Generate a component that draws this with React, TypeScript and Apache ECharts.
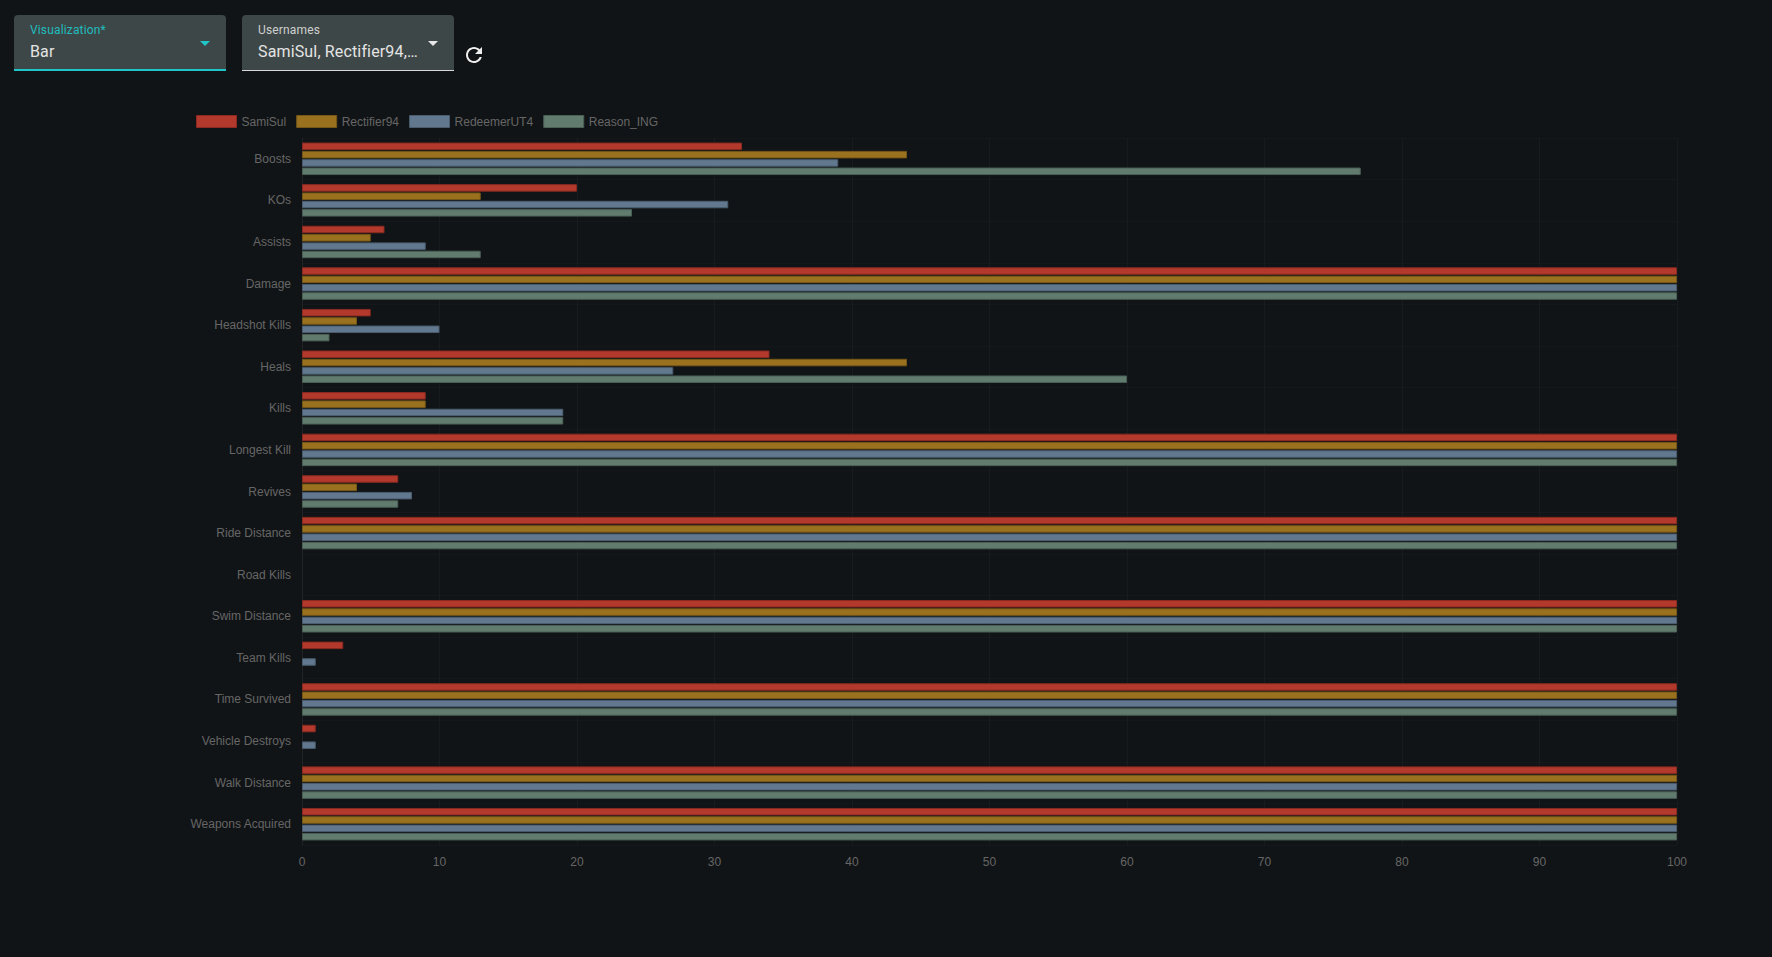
import React, { useEffect, useRef } from "react";
import * as echarts from "echarts";

const categories = [
  "Boosts", "KOs", "Assists", "Damage", "Headshot Kills", "Heals", "Kills",
  "Longest Kill", "Revives", "Ride Distance", "Road Kills", "Swim Distance",
  "Team Kills", "Time Survived", "Vehicle Destroys", "Walk Distance", "Weapons Acquired",
];
const players = ["SamiSul", "Rectifier94", "RedeemerUT4", "Reason_ING"];
const samiSul = [32, 20, 6, 100, 5, 34, 9, 100, 7, 100, 0, 100, 3, 100, 1, 100, 100];
const rectifier94 = [44, 13, 5, 100, 4, 44, 9, 100, 4, 100, 0, 100, 0, 100, 0, 100, 100];
const redeemerUT4 = [39, 31, 9, 100, 10, 27, 19, 100, 8, 100, 0, 100, 1, 100, 1, 100, 100];
const reasonING = [77, 24, 13, 100, 2, 60, 19, 100, 7, 100, 0, 100, 0, 100, 0, 100, 100];
const seriesValues = [samiSul, rectifier94, redeemerUT4, reasonING];
const fills = ["#b3392d", "#9a721f", "#61788f", "#617b6f"];
const borders = ["#8a2a21", "#765717", "#4a5c6e", "#4a5f55"];

const FONT = "'Liberation Sans', Arial, Helvetica, sans-serif";

function Chart() {
  const ref = useRef<HTMLDivElement>(null);
  useEffect(() => {
    if (!ref.current) return;
    const chart = echarts.init(ref.current, undefined, { renderer: "svg" });
    chart.setOption({
      animation: false,
      backgroundColor: "transparent",
      legend: {
        left: 196,
        top: 115,
        padding: 0,
        itemWidth: 40,
        itemHeight: 12,
        itemGap: 10,
        icon: "rect",
        textStyle: { color: "#666", fontSize: 12, fontFamily: FONT },
        data: players.map((p, i) => ({
          name: p,
          itemStyle: { color: fills[i], borderColor: borders[i], borderWidth: 1 },
        })),
      },
      grid: { left: 302, right: 95, top: 138, bottom: 112, containLabel: false },
      xAxis: {
        type: "value",
        min: 0,
        max: 100,
        interval: 10,
        axisLine: { show: false },
        axisTick: { show: false },
        axisLabel: { color: "#666", fontSize: 12, fontFamily: FONT, margin: 11 },
        splitLine: { show: true, lineStyle: { color: "rgba(255,255,255,0.03)", width: 1 } },
      },
      yAxis: {
        type: "category",
        inverse: true,
        data: categories,
        axisLine: { show: true, lineStyle: { color: "rgba(255,255,255,0.04)" } },
        axisTick: { show: false },
        axisLabel: { color: "#666", fontSize: 12, fontFamily: FONT, margin: 11, interval: 0 },
        splitLine: { show: true, interval: 0, lineStyle: { color: "rgba(255,255,255,0.02)", width: 1 } },
      },
      series: players.map((p, i) => ({
        name: p,
        type: "bar",
        barWidth: 7.5,
        barGap: "11%",
        clip: true,
        itemStyle: { color: fills[i], borderColor: borders[i], borderWidth: 1 },
        data: seriesValues[i].map((v) =>
          v === 0 ? { value: 0, itemStyle: { borderWidth: 0, opacity: 0 } } : v
        ),
      })),
    });
    return () => chart.dispose();
  }, []);
  return <div ref={ref} style={{ position: "absolute", left: 0, top: 0, width: 1772, height: 957 }} />;
}

function Arrow({ color, left }: { color: string; left: number }) {
  return (
    <div
      style={{
        position: "absolute",
        left,
        top: 26,
        width: 0,
        height: 0,
        borderLeft: "5px solid transparent",
        borderRight: "5px solid transparent",
        borderTop: `5px solid ${color}`,
      }}
    />
  );
}

export default function App() {
  useEffect(() => {
    document.body.style.margin = "0";
    document.body.style.background = "#111416";
  }, []);
  const fieldBase: React.CSSProperties = {
    position: "absolute",
    top: 15,
    width: 212,
    height: 56,
    background: "#3e4747",
    borderRadius: "4px 4px 0 0",
    fontFamily: "Roboto, 'Noto Sans', sans-serif",
    boxSizing: "border-box",
  };
  return (
    <div
      style={{
        position: "fixed",
        left: 0,
        top: 0,
        width: 1772,
        height: 957,
        background: "#111416",
        overflow: "hidden",
      }}
    >
      <Chart />
      <div style={{ ...fieldBase, left: 14, borderBottom: "2px solid #1ec6c8" }}>
        <div style={{ position: "absolute", left: 16, top: 7, fontSize: 12, color: "#1fbcbe", lineHeight: "16px", letterSpacing: 0.15 }}>
          Visualization*
        </div>
        <div style={{ position: "absolute", left: 16, top: 27, fontSize: 16, color: "#e4e4e4", lineHeight: "20px", letterSpacing: 0.15 }}>
          Bar
        </div>
        <Arrow color="#1fc6c8" left={186} />
      </div>
      <div style={{ ...fieldBase, left: 242, borderBottom: "1px solid #d8d8d8" }}>
        <div style={{ position: "absolute", left: 16, top: 7, fontSize: 12, color: "#cfcfcf", lineHeight: "16px", letterSpacing: 0.15 }}>
          Usernames
        </div>
        <div
          style={{
            position: "absolute",
            left: 16,
            top: 27,
            fontSize: 16,
            color: "#e4e4e4",
            lineHeight: "20px",
            whiteSpace: "nowrap",
            letterSpacing: 0.15,
          }}
        >
          SamiSul, Rectifier94,…
        </div>
        <Arrow color="#e8e8e8" left={186} />
      </div>
      <svg
        style={{ position: "absolute", left: 462, top: 43 }}
        width={24}
        height={24}
        viewBox="0 0 24 24"
      >
        <path
          fill="#eeeeee"
          d="M17.65 6.35C16.2 4.9 14.21 4 12 4c-4.42 0-7.99 3.58-7.99 8s3.57 8 7.99 8c3.73 0 6.84-2.55 7.73-6h-2.08c-.82 2.33-3.04 4-5.65 4-3.31 0-6-2.69-6-6s2.69-6 6-6c1.66 0 3.14.69 4.22 1.78L13 11h7V4l-2.35 2.35z"
        />
      </svg>
    </div>
  );
}
